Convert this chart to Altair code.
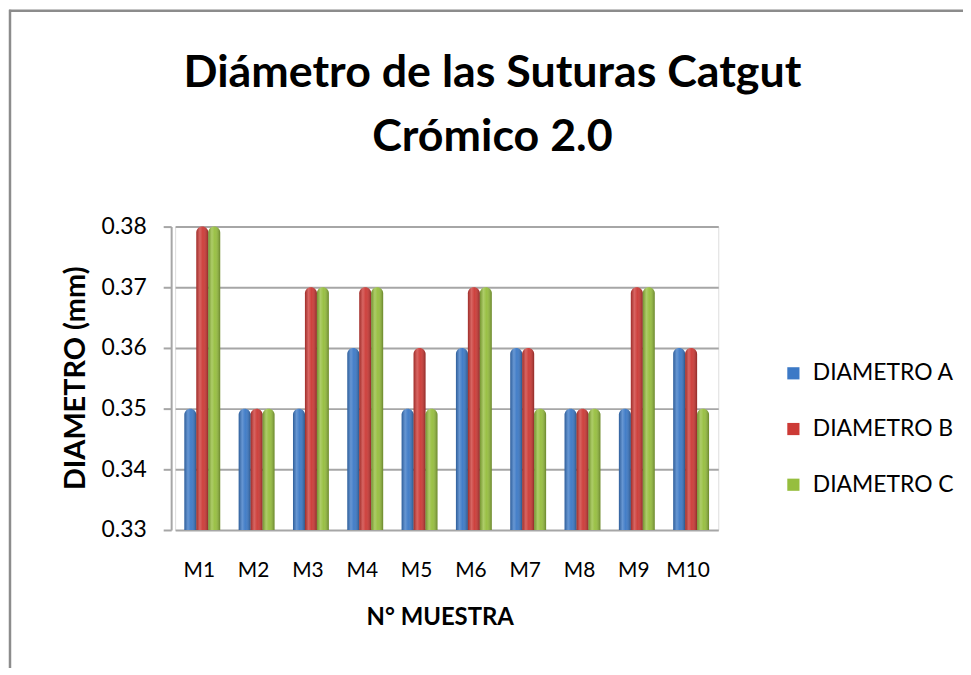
import altair as alt
import pandas as pd

categories = ["M1", "M2", "M3", "M4", "M5", "M6", "M7", "M8", "M9", "M10"]
diametro_a = [0.35, 0.35, 0.35, 0.36, 0.35, 0.36, 0.36, 0.35, 0.35, 0.36]
diametro_b = [0.38, 0.35, 0.37, 0.37, 0.36, 0.37, 0.36, 0.35, 0.37, 0.36]
diametro_c = [0.38, 0.35, 0.37, 0.37, 0.35, 0.37, 0.35, 0.35, 0.37, 0.35]
series = ["DIAMETRO A", "DIAMETRO B", "DIAMETRO C"]
colors = ["#3C79C6", "#CC3A36", "#96BE3E"]
y_ticks = [0.33, 0.34, 0.35, 0.36, 0.37, 0.38]
title_lines = ["Diámetro de las Suturas Catgut", "Crómico 2.0"]

rows = []
for s, vals in zip(series, [diametro_a, diametro_b, diametro_c]):
    for c, v in zip(categories, vals):
        rows.append({"muestra": c, "serie": s, "valor": v})
df = pd.DataFrame(rows)

FONT = "Lato"
GRID = "#A6A6A6"

x_enc = alt.X(
    "muestra:N",
    sort=categories,
    scale=alt.Scale(paddingInner=0.34, paddingOuter=0.17),
    axis=alt.Axis(
        title="N° MUESTRA",
        labelAngle=0,
        labelFont=FONT,
        labelFontSize=21,
        labelColor="black",
        labelPadding=30,
        labelOffset=-3,
        ticks=False,
        domain=False,
        titleFont=FONT,
        titleFontSize=24,
        titleFontWeight="bold",
        titleColor="black",
        titleBaseline="middle",
        titleAlign="center",
        titleX=266,
        titleY=88,
    ),
)
xo_enc = alt.XOffset("serie:N", sort=series, scale=alt.Scale(paddingInner=0.0))
y_enc = alt.Y(
    "valor:Q",
    scale=alt.Scale(domain=[y_ticks[0], y_ticks[-1]], nice=False, zero=False),
    axis=alt.Axis(
        title="DIAMETRO (mm)",
        values=y_ticks,
        format=".2f",
        offset=4,
        labelFont=FONT,
        labelFontSize=23,
        labelColor="black",
        labelPadding=17,
        tickSize=8,
        tickWidth=2,
        tickColor=GRID,
        domainColor=GRID,
        domainWidth=2,
        grid=True,
        gridColor=GRID,
        gridWidth=2,
        titleFont=FONT,
        titleFontSize=29,
        titleFontWeight="bold",
        titleColor="black",
        titleAngle=-90,
        titleAlign="center",
        titleBaseline="middle",
        titleX=-96,
        titleY=152,
    ),
)

bars = alt.Chart(df).mark_bar(
    cornerRadiusTopLeft=6, cornerRadiusTopRight=6
).encode(
    x=x_enc,
    xOffset=xo_enc,
    y=y_enc,
    y2=alt.datum(y_ticks[0]),
    color=alt.Color(
        "serie:N",
        sort=series,
        scale=alt.Scale(domain=series, range=colors),
        legend=alt.Legend(
            title=None,
            orient="none",
            legendX=610,
            legendY=136,
            padding=0,
            symbolType="square",
            symbolSize=150,
            symbolStrokeWidth=0,
            labelFont=FONT,
            labelFontSize=23,
            labelColor="black",
            labelOffset=8,
            rowPadding=32,
        ),
    ),
)

shade = alt.Chart(df).mark_bar(
    cornerRadiusTopLeft=6,
    cornerRadiusTopRight=6,
    color=alt.Gradient(
        gradient="linear",
        x1=0, x2=1, y1=0, y2=0,
        stops=[
            alt.GradientStop(offset=0, color="rgba(0,0,0,0.22)"),
            alt.GradientStop(offset=0.3, color="rgba(255,255,255,0.22)"),
            alt.GradientStop(offset=0.55, color="rgba(255,255,255,0.04)"),
            alt.GradientStop(offset=1, color="rgba(0,0,0,0.30)"),
        ],
    ),
).encode(x=x_enc, xOffset=xo_enc, y=y_enc, y2=alt.datum(y_ticks[0]))

frame_df = pd.DataFrame({"k": [0]})
border_top = alt.Chart(frame_df).mark_rule(color="#8C8C8C", strokeWidth=2.5).encode(
    x=alt.value(-167), x2=alt.value(800), y=alt.value(-217)
)
border_left = alt.Chart(frame_df).mark_rule(color="#8C8C8C", strokeWidth=2.5).encode(
    x=alt.value(-166), y=alt.value(-218), y2=alt.value(460)
)

title_style = dict(font=FONT, fontSize=45, fontWeight="bold", color="black",
                   align="center", baseline="alphabetic")
title1 = alt.Chart(frame_df).mark_text(text=title_lines[0], **title_style).encode(
    x=alt.value(319), y=alt.value(-140)
)
title2 = alt.Chart(frame_df).mark_text(text=title_lines[1], **title_style).encode(
    x=alt.value(319), y=alt.value(-76)
)

chart = alt.layer(border_top, border_left, title1, title2, bars, shade).properties(
    width=546,
    height=305,
    autosize=alt.AutoSizeParams(type="none"),
    padding={"left": 168, "top": 218, "right": 246, "bottom": 137},
).configure_view(stroke="transparent").configure(background="white")

chart.save("out.html", embed_options={"renderer": "svg", "actions": False})
